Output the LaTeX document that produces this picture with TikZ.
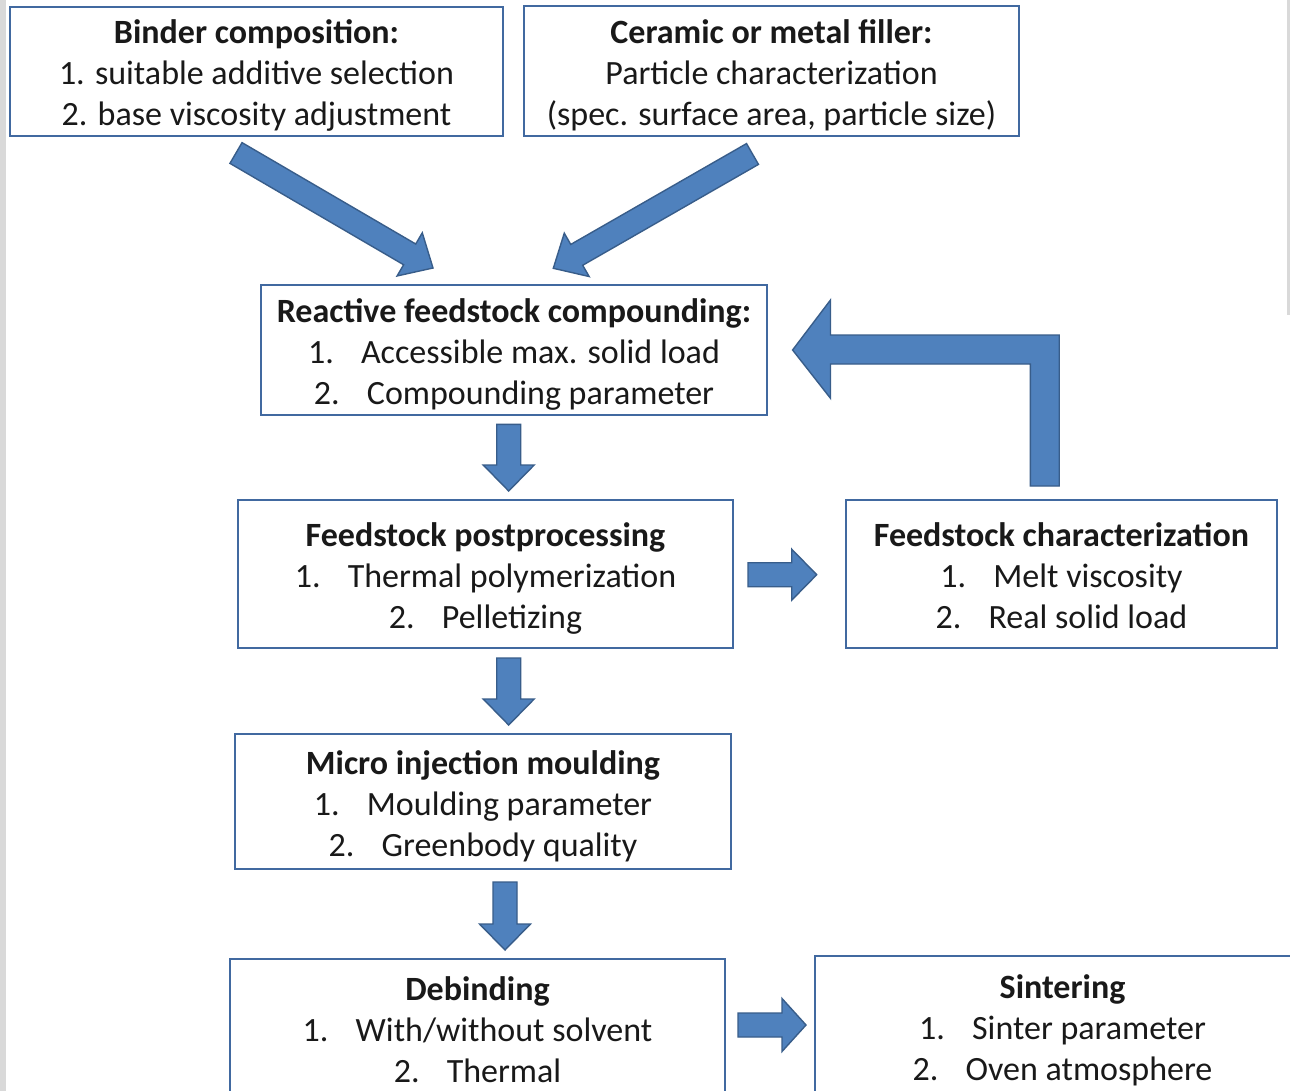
\documentclass[tikz,border=0pt]{standalone}
\usepackage{fontspec}
\setmainfont{Carlito}
\usetikzlibrary{calc}
\definecolor{boxline}{RGB}{65,105,160}
\definecolor{arrfill}{RGB}{79,129,189}
\definecolor{arrline}{RGB}{56,93,138}
\definecolor{edgegray}{RGB}{217,217,217}
\tikzset{
  x=1pt,y=1pt,
  stepbox/.style={draw=boxline, line width=2.4pt, fill=white, align=center, inner sep=0pt,
    font=\fontsize{34}{41}\selectfont, text=black!90},
  blockfill/.style={fill=arrfill, draw=arrline, line width=1.4pt, line join=miter},
}
% #1 tail, #2 tip, #3 half shaft width, #4 half head width, #5 head length
\newcommand\blockarrow[5]{%
  \path[blockfill] let \p1=(#1), \p2=(#2), \n1={atan2(\y2-\y1,\x2-\x1)},
     \n2={veclen(\x2-\x1,\y2-\y1)} in
    ($(\p1)+(\n1+90:#3)$) -- ++(\n1:\n2-#5) -- ++(\n1+90:#4-#3) -- (\p2)
    -- ($(\p1)+(\n1:\n2-#5)+(\n1-90:#4)$) -- ++(\n1+90:#4-#3)
    -- ($(\p1)+(\n1-90:#3)$) -- cycle;
}
\newcommand\itm[2]{#1\hspace{0.8em}#2}
\newcommand\sline{\rule[-7pt]{0pt}{41pt}}
\newcommand\tlines[3]{\sline\textbf{#1}\\\sline#2\\\sline#3}
\AtBeginDocument{\lineskiplimit=-100pt\relax}
\begin{document}
\begin{tikzpicture}
\useasboundingbox (0,0) rectangle (1290,-1091);
\clip (0,0) rectangle (1290,-1091);
\fill[white] (0,0) rectangle (1290,-1091);
\fill[edgegray] (0,0) rectangle (6,-1091);
\fill[edgegray] (1287,0) rectangle (1290,-315);

\node[stepbox, minimum width=493, minimum height=129] (binder) at (256.5,-71.5)
  {\tlines{Binder composition:}{1. suitable additive selection}{2. base viscosity adjustment}};
\node[stepbox, minimum width=495, minimum height=130] (filler) at (771.5,-71)
  {\tlines{Ceramic or metal filler:}{Particle characterization}{(spec. surface area, particle size)}};
\node[stepbox, minimum width=506, minimum height=130] (react) at (514,-350)
  {\tlines{Reactive feedstock compounding:}{\itm{1.}{Accessible max. solid load}}{\itm{2.}{Compounding parameter}}};
\node[stepbox, minimum width=495, minimum height=148] (post) at (485.5,-574)
  {\tlines{Feedstock postprocessing}{\itm{1.}{Thermal polymerization}}{\itm{2.}{Pelletizing}}};
\node[stepbox, minimum width=431, minimum height=148] (charac) at (1061.5,-574)
  {\tlines{Feedstock characterization}{\itm{1.}{Melt viscosity}}{\itm{2.}{Real solid load}}};
\node[stepbox, minimum width=496, minimum height=135] (micro) at (483,-801.5)
  {\tlines{Micro injection moulding}{\itm{1.}{Moulding parameter}}{\itm{2.}{Greenbody quality}}};
\node[stepbox, minimum width=495, minimum height=138] (debind) at (477.5,-1028)
  {\tlines{Debinding}{\itm{1.}{With/without solvent}}{\itm{2.}{Thermal}}};
\node[stepbox, minimum width=495, minimum height=140] (sinter) at (1062.5,-1026)
  {\tlines{Sintering}{\itm{1.}{Sinter parameter}}{\itm{2.}{Oven atmosphere}}};

% connector end points
\coordinate (a1t) at (236,-153);   \coordinate (a1h) at (433,-268);
\coordinate (a2t) at (752.5,-154); \coordinate (a2h) at (553.3,-268.3);
\coordinate (d1t) at (508.7,-424.3); \coordinate (d1h) at (508.7,-491);
\coordinate (d2t) at (508.7,-658);   \coordinate (d2h) at (508.7,-725);
\coordinate (d3t) at (505,-882);     \coordinate (d3h) at (505,-950);
\coordinate (r1t) at (748,-574.7);   \coordinate (r1h) at (816.7,-574.7);
\coordinate (r2t) at (738,-1025);    \coordinate (r2h) at (806,-1025);

\blockarrow{a1t}{a1h}{12}{25}{27}
\blockarrow{a2t}{a2h}{12}{25}{27}
\blockarrow{d1t}{d1h}{12}{25.5}{26}
\blockarrow{d2t}{d2h}{12}{25.5}{26}
\blockarrow{d3t}{d3h}{12}{25.5}{26}
\blockarrow{r1t}{r1h}{12}{25.5}{25}
\blockarrow{r2t}{r2h}{12}{26.5}{24}

% bent feedback arrow from characterization back to compounding
\path[blockfill] (1030.4,-486) -- (1030.4,-364) -- (830.5,-364) -- (830.5,-398.3)
  -- (792.6,-350) -- (830.5,-300) -- (830.5,-335) -- (1059.2,-335) -- (1059.2,-486) -- cycle;
\end{tikzpicture}
\end{document}
